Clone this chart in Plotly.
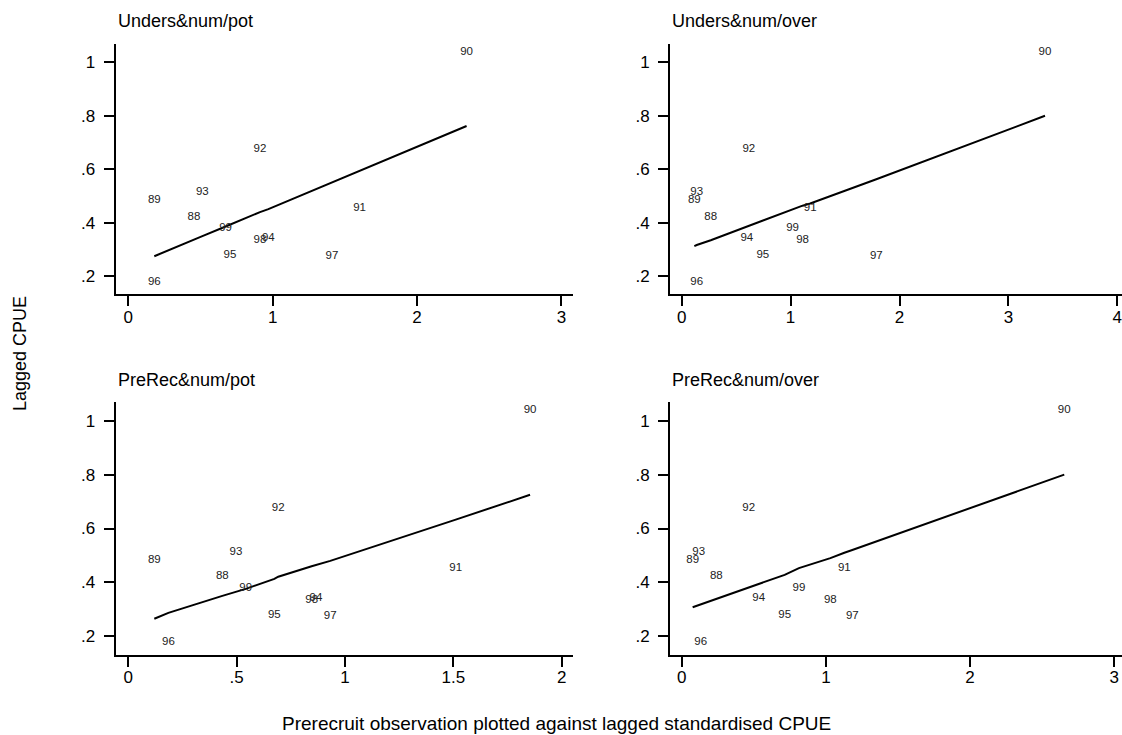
import plotly.graph_objects as go

W, H = 1122, 735
FONT = "Liberation Sans, Arial, Helvetica, sans-serif"

years = ["88", "89", "90", "91", "92", "93", "94", "95", "96", "97", "98", "99"]
lagged_cpue = [0.423, 0.483, 1.039, 0.453, 0.677, 0.513, 0.341, 0.278, 0.177, 0.275, 0.335, 0.379]

titles = ["Unders&num/pot", "Unders&num/over", "PreRec&num/pot", "PreRec&num/over"]

x_unders_pot = [0.455, 0.180, 2.343, 1.602, 0.912, 0.513, 0.970, 0.704, 0.180, 1.411, 0.912, 0.674]
x_unders_over = [0.267, 0.116, 3.336, 1.180, 0.616, 0.138, 0.598, 0.745, 0.138, 1.787, 1.110, 1.018]
x_prerec_pot = [0.434, 0.120, 1.854, 1.511, 0.692, 0.497, 0.866, 0.674, 0.185, 0.932, 0.846, 0.542]
x_prerec_over = [0.240, 0.076, 2.653, 1.128, 0.465, 0.118, 0.534, 0.714, 0.132, 1.183, 1.031, 0.813]

fit_x_unders_pot = [0.180, 0.455, 0.513, 0.674, 0.704, 0.912, 0.970, 1.411, 1.602, 2.343]
fit_y_unders_pot = [0.275, 0.335, 0.350, 0.386, 0.393, 0.440, 0.451, 0.551, 0.592, 0.762]
fit_x_unders_over = [0.116, 0.138, 0.267, 0.598, 0.616, 0.745, 1.018, 1.110, 1.180, 1.787, 3.336]
fit_y_unders_over = [0.313, 0.317, 0.335, 0.386, 0.389, 0.409, 0.452, 0.464, 0.472, 0.563, 0.800]
fit_x_prerec_pot = [0.120, 0.185, 0.434, 0.497, 0.542, 0.674, 0.692, 0.846, 0.866, 0.932, 1.511, 1.854]
fit_y_prerec_pot = [0.265, 0.287, 0.350, 0.366, 0.376, 0.413, 0.421, 0.460, 0.465, 0.480, 0.633, 0.725]
fit_x_prerec_over = [0.076, 0.118, 0.132, 0.240, 0.465, 0.534, 0.714, 0.813, 1.031, 1.128, 1.183, 2.653]
fit_y_prerec_over = [0.308, 0.316, 0.319, 0.338, 0.383, 0.395, 0.428, 0.453, 0.490, 0.510, 0.520, 0.800]

y_ticks = [0.2, 0.4, 0.6, 0.8, 1.0]
y_ticktext = [".2", ".4", ".6", ".8", "1"]
x_ticks_pot = [0, 1, 2, 3]
x_ticktext_pot = ["0", "1", "2", "3"]
x_ticks_over = [0, 1, 2, 3, 4]
x_ticktext_over = ["0", "1", "2", "3", "4"]
x_ticks_pr_pot = [0, 0.5, 1, 1.5, 2]
x_ticktext_pr_pot = ["0", ".5", "1", "1.5", "2"]
x_ticks_pr_over = [0, 1, 2, 3]
x_ticktext_pr_over = ["0", "1", "2", "3"]

panels = [
    dict(x=x_unders_pot, fx=fit_x_unders_pot, fy=fit_y_unders_pot,
         xt=x_ticks_pot, xtt=x_ticktext_pot, xr=[-0.0873, 3.082], yr=[0.1327, 1.0673],
         dx=[115.7, 573.3], dy=[44.3, 294.3], title_pos=(116, 21)),
    dict(x=x_unders_over, fx=fit_x_unders_over, fy=fit_y_unders_over,
         xt=x_ticks_over, xtt=x_ticktext_over, xr=[-0.1074, 4.043], yr=[0.1327, 1.0673],
         dx=[670, 1122], dy=[44.3, 294.3], title_pos=(670, 21)),
    dict(x=x_prerec_pot, fx=fit_x_prerec_pot, fy=fit_y_prerec_pot,
         xt=x_ticks_pr_pot, xtt=x_ticktext_pr_pot, xr=[-0.0581, 2.0535], yr=[0.1306, 1.0683],
         dx=[115.7, 573.3], dy=[402.3, 655], title_pos=(116, 379.5)),
    dict(x=x_prerec_over, fx=fit_x_prerec_over, fy=fit_y_prerec_over,
         xt=x_ticks_pr_over, xtt=x_ticktext_pr_over, xr=[-0.0811, 3.0534], yr=[0.1306, 1.0683],
         dx=[670, 1122], dy=[402.3, 655], title_pos=(670, 379.5)),
]

fig = go.Figure()
layout = dict(
    width=W, height=H, margin=dict(l=0, r=0, t=0, b=0),
    paper_bgcolor="white", plot_bgcolor="white", showlegend=False,
    font=dict(family=FONT, color="black"),
)
annotations = []
for i, p in enumerate(panels):
    n = i + 1
    xa = "x" if n == 1 else f"x{n}"
    ya = "y" if n == 1 else f"y{n}"
    fig.add_trace(go.Scatter(x=p["fx"], y=p["fy"], mode="lines", xaxis=xa, yaxis=ya,
                             line=dict(color="black", width=2), hoverinfo="skip"))
    fig.add_trace(go.Scatter(x=p["x"], y=lagged_cpue, mode="text", text=years,
                             textposition="middle center", xaxis=xa, yaxis=ya,
                             textfont=dict(family=FONT, size=11.5, color="#222"),
                             cliponaxis=False))
    key_x = "xaxis" if n == 1 else f"xaxis{n}"
    key_y = "yaxis" if n == 1 else f"yaxis{n}"
    layout[key_x] = dict(
        domain=[p["dx"][0] / W, p["dx"][1] / W], range=p["xr"], anchor=ya,
        showline=True, linecolor="black", linewidth=2, showgrid=False, zeroline=False,
        ticks="outside", ticklen=10, tickwidth=2, tickcolor="black",
        tickvals=p["xt"], ticktext=p["xtt"], tickfont=dict(size=17, family=FONT),
        ticklabeloverflow="allow", ticklabelstandoff=-4,
    )
    layout[key_y] = dict(
        domain=[1 - p["dy"][1] / H, 1 - p["dy"][0] / H], range=p["yr"], anchor=xa,
        showline=True, linecolor="black", linewidth=2, showgrid=False, zeroline=False,
        ticks="outside", ticklen=10, tickwidth=2, tickcolor="black",
        tickvals=y_ticks, ticktext=y_ticktext, tickfont=dict(size=17, family=FONT),
        ticklabelstandoff=5,
    )
    tx, ty = p["title_pos"]
    annotations.append(dict(text=titles[i], x=tx / W, y=1 - ty / H, xref="paper", yref="paper",
                            xanchor="left", yanchor="middle", showarrow=False,
                            font=dict(size=18, family=FONT, color="black")))

annotations.append(dict(text="Lagged CPUE", x=20 / W, y=1 - 354 / H, xref="paper", yref="paper",
                        xanchor="center", yanchor="middle", textangle=-90, showarrow=False,
                        font=dict(size=18, family=FONT, color="black")))
annotations.append(dict(text="Prerecruit observation plotted against lagged standardised CPUE",
                        x=556 / W, y=1 - 723 / H, xref="paper", yref="paper",
                        xanchor="center", yanchor="middle", showarrow=False,
                        font=dict(size=19, family=FONT, color="black")))
layout["annotations"] = annotations
fig.update_layout(**layout)
fig.write_html("out.html")
